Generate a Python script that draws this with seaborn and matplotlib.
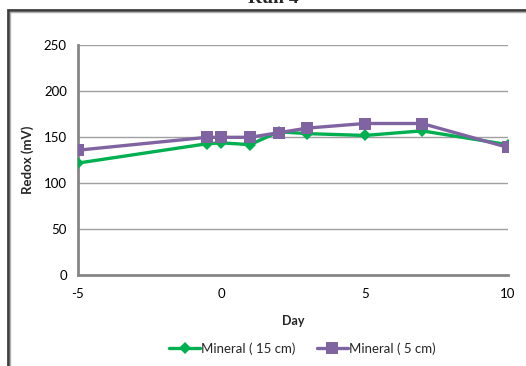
import matplotlib
matplotlib.use("Agg")
import matplotlib.pyplot as plt
import matplotlib.patches as mpatches
import pandas as pd
import seaborn as sns

days = [-5, -0.5, 0, 1, 2, 3, 5, 7, 10]
mineral_15cm = [122, 143, 144, 142, 156, 154, 152, 157, 142]
mineral_5cm = [136, 150, 150, 150, 155, 160, 165, 165, 139]
series_names = ["Mineral ( 15 cm)", "Mineral ( 5 cm)"]
y_ticks = [0, 50, 100, 150, 200, 250]
x_ticks = [-5, 0, 5, 10]

df = pd.concat([
    pd.DataFrame({"Day": days, "Redox": mineral_15cm, "Series": series_names[0]}),
    pd.DataFrame({"Day": days, "Redox": mineral_5cm, "Series": series_names[1]}),
])

sns.set_theme(style="white")
plt.rcParams["font.family"] = ["Lato", "DejaVu Sans"]
plt.rcParams["axes.unicode_minus"] = False

fig = plt.figure(figsize=(5.26, 3.66), dpi=100)
ax = fig.add_axes([78 / 526, 1 - 275.3 / 366, 430 / 526, 230 / 366])

palette = {series_names[0]: "#00B050", series_names[1]: "#8064A2"}
sns.lineplot(data=df[df.Series == series_names[0]], x="Day", y="Redox",
             color=palette[series_names[0]], marker="D", markersize=6,
             markeredgewidth=0, linewidth=2.4, ax=ax, label=series_names[0], zorder=3)
sns.lineplot(data=df[df.Series == series_names[1]], x="Day", y="Redox",
             color=palette[series_names[1]], marker="s", markersize=9,
             markeredgewidth=0, linewidth=2.4, ax=ax, label=series_names[1], zorder=4)

ax.set_xlim(-5, 10)
ax.set_ylim(0, 250)
ax.set_xticks(x_ticks)
ax.set_yticks(y_ticks)
ax.tick_params(axis="both", length=0, labelsize=9.5, colors="#000000", pad=8)
ax.tick_params(axis="x", pad=9)
for y in y_ticks[1:]:
    ax.axhline(y, color="#A0A0A0", linewidth=1, zorder=1)

for side in ["top", "right"]:
    ax.spines[side].set_visible(False)
for side in ["left", "bottom"]:
    ax.spines[side].set_color("#868686")
    ax.spines[side].set_linewidth(2)
ax.spines["left"].set_zorder(2)

ax.set_xlabel("Day", fontsize=9, fontweight="bold", labelpad=11)
ax.set_ylabel("Redox (mV)", fontsize=9.5, fontweight="bold", labelpad=7)

leg = ax.legend(loc="center", bbox_to_anchor=(0.522, -0.318), ncol=2,
                frameon=False, fontsize=9.5, handlelength=2.35, handletextpad=0.1,
                columnspacing=1.6, borderaxespad=0)

# outer chart frame
fig.patches.append(mpatches.Rectangle((7.5 / 526, -0.2), 1.2, 1 - 9.5 / 366 + 0.2,
                                      transform=fig.transFigure, fill=False,
                                      edgecolor="#3F3F3F", linewidth=2, zorder=0))
fig.patches.append(mpatches.Rectangle((10 / 526, -0.2), 1.2, 1 - 12 / 366 + 0.2,
                                      transform=fig.transFigure, fill=False,
                                      edgecolor="#B0B0B0", linewidth=1, zorder=0))

fig.text(273 / 526, 1 - 3 / 366, "Run 4", ha="center", va="baseline",
         fontsize=14, fontweight="bold", family=["Liberation Serif", "DejaVu Serif"])

fig.savefig("out.png", dpi=100)
